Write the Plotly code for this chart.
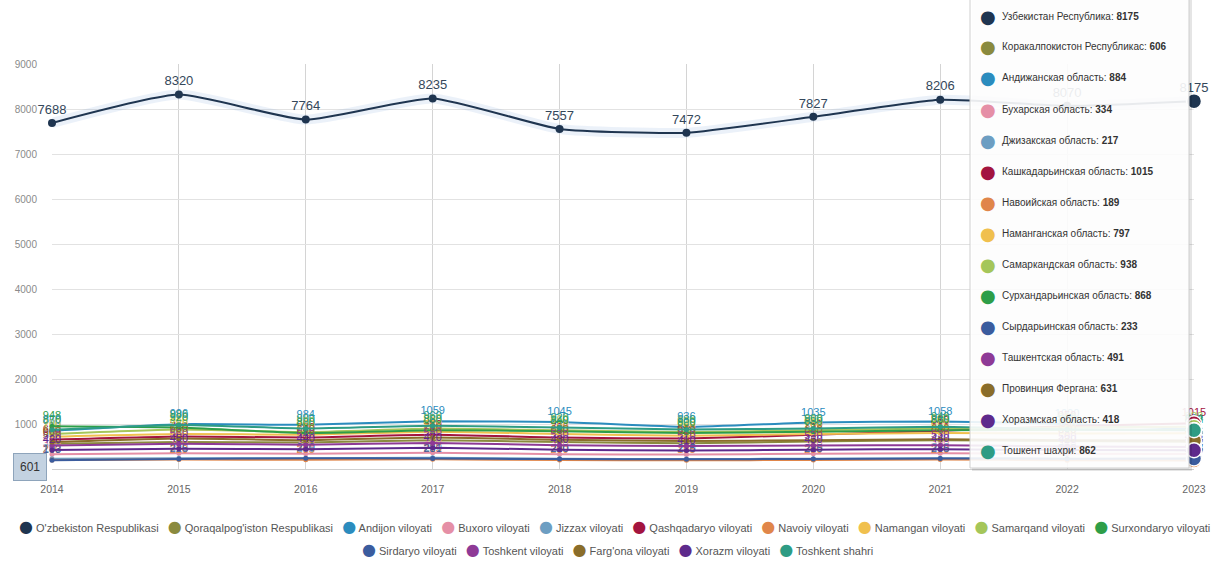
import plotly.graph_objects as go

# ---- data -------------------------------------------------------------
years = ["2014", "2015", "2016", "2017", "2018", "2019", "2020", "2021", "2022", "2023"]

uzbekiston = [7688, 8320, 7764, 8235, 7557, 7472, 7827, 8206, 8070, 8175]
qoraqalpogiston = [560, 600, 590, 640, 600, 570, 610, 640, 620, 606]
andijon = [850, 996, 984, 1059, 1045, 936, 1035, 1058, 1000, 884]
buxoro = [330, 350, 340, 360, 330, 320, 340, 350, 340, 334]
jizzax = [230, 240, 235, 250, 230, 220, 230, 240, 225, 217]
qashqadaryo = [650, 720, 700, 760, 700, 680, 760, 850, 950, 1015]
navoiy = [200, 210, 205, 215, 200, 195, 200, 210, 195, 189]
namangan = [720, 780, 760, 830, 780, 740, 780, 800, 790, 797]
samarqand = [780, 880, 820, 900, 860, 820, 860, 900, 920, 938]
surxondaryo = [948, 920, 800, 860, 840, 800, 830, 860, 870, 868]
sirdaryo = [193, 225, 240, 231, 220, 215, 225, 235, 230, 233]
toshkent_vil = [520, 560, 540, 580, 530, 510, 520, 530, 500, 491]
fargona = [600, 680, 640, 700, 650, 620, 640, 660, 640, 631]
xorazm = [420, 450, 440, 470, 430, 410, 430, 440, 420, 418]
toshkent_sh = [870, 980, 900, 960, 920, 880, 900, 940, 880, 862]

names_uz = [
    "O'zbekiston Respublikasi", "Qoraqalpog'iston Respublikasi", "Andijon viloyati",
    "Buxoro viloyati", "Jizzax viloyati", "Qashqadaryo viloyati", "Navoiy viloyati",
    "Namangan viloyati", "Samarqand viloyati", "Surxondaryo viloyati",
    "Sirdaryo viloyati", "Toshkent viloyati", "Farg'ona viloyati", "Xorazm viloyati",
    "Toshkent shahri",
]
names_ru = [
    "Узбекистан Республика", "Коракалпокистон Республикас", "Андижанская область",
    "Бухарская область", "Джизакская область", "Кашкадарьинская область",
    "Навоийская область", "Наманганская область", "Самаркандская область",
    "Сурхандарьинская область", "Сырдарьинская область", "Ташкентская область",
    "Провинция Фергана", "Хоразмская область", "Тошкент шахри",
]
colors = [
    "#1f3550", "#8a8a3e", "#2b8cbe", "#e58fa6", "#6d9ec2", "#a3143f", "#e0864a",
    "#f0c04e", "#a5c65a", "#2e9e48", "#3b5c9e", "#8e3a96", "#8a6d2a", "#5e2a8c",
    "#2e9c84",
]
series = [uzbekiston, qoraqalpogiston, andijon, buxoro, jizzax, qashqadaryo, navoiy,
          namangan, samarqand, surxondaryo, sirdaryo, toshkent_vil, fargona, xorazm,
          toshkent_sh]

y_ticks = [0, 1000, 2000, 3000, 4000, 5000, 6000, 7000, 8000, 9000]
hover_year = years[-1]
hover_index = years.index(hover_year)
y_cursor_label = "601"

# ---- geometry ---------------------------------------------------------
W, H = 1222, 588
L, R, T, B = 52, 28, 64, 119
PW, PH = W - L - R, H - T - B


def px(xp):
    return (xp - L) / PW


def py(yp):
    return (H - B - yp) / PH


FONT = "Arial, Liberation Sans, Helvetica, sans-serif"

fig = go.Figure()

# soft halo under the national total line
fig.add_trace(go.Scatter(
    x=years, y=uzbekiston, mode="lines", hoverinfo="skip", showlegend=False,
    line=dict(color="rgba(130,170,215,0.16)", width=10, shape="spline", smoothing=0.5),
))

# regional lines first, national total drawn on top
for i in list(range(1, len(series))) + [0]:
    vals = series[i]
    is_total = i == 0
    fig.add_trace(go.Scatter(
        x=years, y=vals, name=names_uz[i], showlegend=False,
        mode="lines+markers+text",
        text=[str(v) for v in vals],
        textposition="top center",
        textfont=dict(family=FONT, size=13 if is_total else 11,
                      color="#34475a" if is_total else colors[i]),
        line=dict(color=colors[i], width=2, shape="spline", smoothing=0.5),
        marker=dict(size=8 if is_total else 5, color=colors[i]),
        cliponaxis=False,
    ))

# highlighted points of the hovered year
fig.add_trace(go.Scatter(
    x=[hover_year] * len(series), y=[s[hover_index] for s in series],
    mode="markers", showlegend=False, hoverinfo="skip", cliponaxis=False,
    marker=dict(size=15, color=colors, line=dict(color="white", width=1.5)),
))

shapes = []
annotations = []

# tooltip box
tip_x0, tip_x1, tip_y0, tip_y1 = 970, 1189, -8, 468
shapes.append(dict(type="rect", xref="paper", yref="paper", layer="above",
                   x0=px(tip_x0 + 2), x1=px(tip_x1 + 3), y0=py(tip_y1 + 3), y1=py(tip_y0),
                   fillcolor="rgba(0,0,0,0.10)", line=dict(width=0)))
shapes.append(dict(type="rect", xref="paper", yref="paper", layer="above",
                   x0=px(tip_x0), x1=px(tip_x1), y0=py(tip_y1), y1=py(tip_y0),
                   fillcolor="rgba(255,255,255,0.90)",
                   line=dict(color="#cfcfcf", width=1)))

row0, row_step = 16, 31
for i, (nm, s) in enumerate(zip(names_ru, series)):
    yy = py(row0 + row_step * i)
    annotations.append(dict(
        xref="paper", yref="paper", x=px(988), y=yy, showarrow=False,
        text="●", font=dict(size=18, color=colors[i], family="DejaVu Sans"),
        xanchor="center", yanchor="middle"))
    annotations.append(dict(
        xref="paper", yref="paper", x=px(1000), y=yy, showarrow=False,
        text=f"{nm}: <b>{s[hover_index]}</b>",
        font=dict(size=10, color="#333333", family=FONT),
        xanchor="left", yanchor="middle"))

# crosshair labels on both axes
annotations.append(dict(
    xref="paper", yref="paper", x=px(30), y=py(467), showarrow=False,
    text=y_cursor_label, font=dict(size=12, color="#333333", family=FONT),
    bgcolor="#c3d2e1", bordercolor="#8ea4bb", borderwidth=1, borderpad=6,
    xanchor="center", yanchor="middle"))
annotations.append(dict(
    xref="x", yref="paper", x=hover_year, y=py(491), showarrow=False,
    text=hover_year, font=dict(size=10.5, color="#333333", family=FONT),
    bgcolor="#c3d2e1", bordercolor="#8ea4bb", borderwidth=1, borderpad=8,
    xanchor="center", yanchor="middle"))


# legend rows
def legend_row(idx):
    parts = [f'<span style="color:{colors[i]};font-size:16px;font-family:DejaVu Sans">●</span> {names_uz[i]}'
             for i in idx]
    return "&nbsp;&nbsp;&nbsp;".join(parts)


annotations.append(dict(
    xref="paper", yref="paper", x=px(614), y=py(526), showarrow=False,
    text=legend_row(range(0, 10)), font=dict(size=11, color="#555555", family=FONT),
    xanchor="center", yanchor="middle"))
annotations.append(dict(
    xref="paper", yref="paper", x=px(617), y=py(549), showarrow=False,
    text=legend_row(range(10, 15)), font=dict(size=11, color="#555555", family=FONT),
    xanchor="center", yanchor="middle"))

fig.update_layout(
    width=W, height=H,
    margin=dict(l=L, r=R, t=T, b=B),
    paper_bgcolor="white", plot_bgcolor="white",
    hovermode=False, showlegend=False,
    font=dict(family=FONT),
    shapes=shapes, annotations=annotations,
)
fig.update_xaxes(
    type="category", range=[0, len(years) - 1],
    showgrid=True, gridcolor="#d4d4d4", gridwidth=1,
    showline=True, linecolor="#cfcfcf",
    ticks="", tickfont=dict(size=10.5, color="#666666"),
    ticklabelstandoff=10, zeroline=False,
)
fig.update_yaxes(
    range=[0, 9000], tickvals=y_ticks,
    showgrid=True, gridcolor="#e2e2e2", gridwidth=1,
    tickfont=dict(size=10, color="#8a8a8a"), ticklabelstandoff=14,
    zeroline=False, showline=False,
)

fig.write_html("out.html")
